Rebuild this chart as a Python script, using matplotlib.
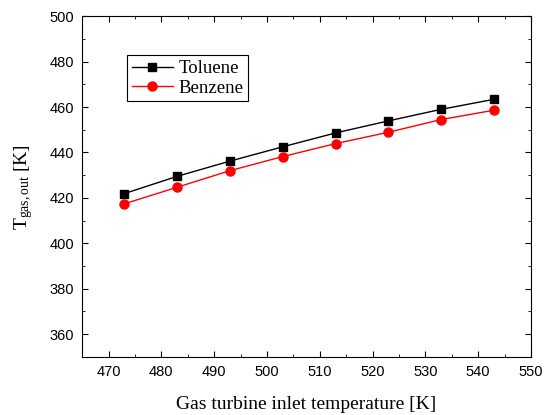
import matplotlib
matplotlib.use("Agg")
import matplotlib.pyplot as plt
from matplotlib.ticker import MultipleLocator

# gas turbine inlet temperature [K]
t_in = [473, 483, 493, 503, 513, 523, 533, 543]
toluene = [421.9, 429.5, 436.2, 442.5, 448.6, 453.9, 459.0, 463.4]
benzene = [417.4, 424.7, 432.0, 438.2, 443.9, 448.9, 454.5, 458.6]

plt.rcParams['mathtext.fontset'] = 'custom'
plt.rcParams['mathtext.rm'] = 'Liberation Serif'
plt.rcParams['mathtext.it'] = 'Liberation Serif:italic'

fig = plt.figure(figsize=(5.44, 4.15), dpi=100)
ax = fig.add_axes([0.151, 0.140, 0.825, 0.821])

ax.plot(t_in, toluene, color='black', marker='s', markersize=6, lw=1, label='Toluene')
ax.plot(t_in, benzene, color='red', marker='o', markersize=6.5, lw=1, label='Benzene')

ax.set_xlim(465, 550)
ax.set_ylim(350, 500)
ax.xaxis.set_major_locator(MultipleLocator(10))
ax.xaxis.set_minor_locator(MultipleLocator(5))
ax.yaxis.set_major_locator(MultipleLocator(20))
ax.yaxis.set_minor_locator(MultipleLocator(10))
ax.tick_params(which='both', direction='in', top=True, right=True)
ax.tick_params(which='major', length=4, labelsize=10.5, pad=6)
ax.tick_params(which='minor', length=2.5)
for lab in ax.get_xticklabels() + ax.get_yticklabels():
    lab.set_family('Liberation Sans')
ax.get_yticklabels()[0].set_visible(False)

ax.set_xlabel('Gas turbine inlet temperature [K]', family='Liberation Serif', fontsize=14, labelpad=12)
ax.set_ylabel(r'$\mathrm{T_{gas,out}}$ [K]', family='Liberation Serif', fontsize=14, labelpad=10)

leg = ax.legend(loc='upper left', bbox_to_anchor=(0.1, 0.885), prop={'family': 'Liberation Serif', 'size': 13.5},
                fancybox=False, edgecolor='black', framealpha=1, handlelength=2.2,
                borderpad=0.25, labelspacing=0.12, handletextpad=0.3, borderaxespad=0)
leg.get_frame().set_linewidth(0.8)

fig.savefig('out.png', dpi=100)
